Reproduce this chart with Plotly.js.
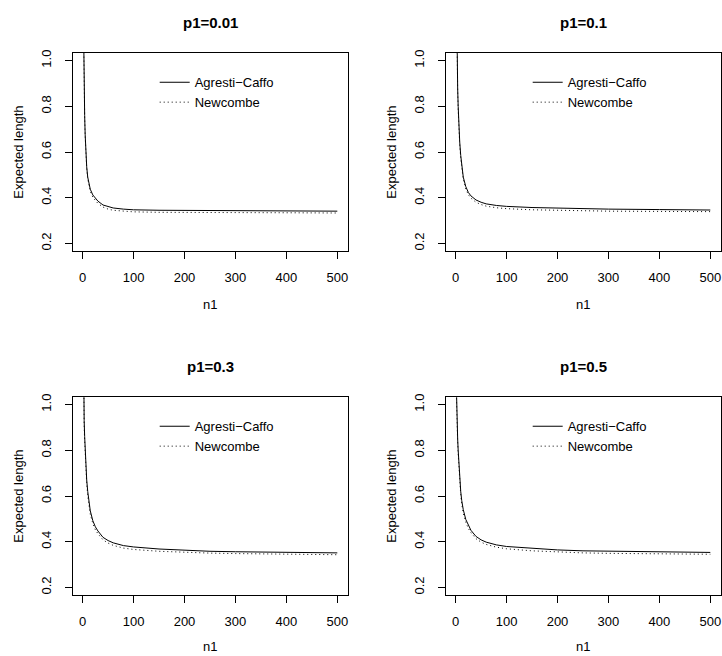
<!DOCTYPE html>
<html>
<head>
<meta charset="utf-8">
<script src="https://cdn.plot.ly/plotly-3.0.1.min.js"></script>
<style>html,body{margin:0;padding:0;background:#fff;}#chart{width:722px;height:656px;}</style>
</head>
<body>
<div id="chart"></div>
<script>
const n1 = [1,2,3,4,5,6,8,10,12,15,20,25,30,40,50,60,80,100,150,200,250,300,400,500];
const panelTitles = ["p1=0.01","p1=0.1","p1=0.3","p1=0.5"];
const seriesNames = ["Agresti\u2212Caffo","Newcombe"];
const xTicks = [0,100,200,300,400,500];
const yTicks = [0.2,0.4,0.6,0.8,1.0];
const yTickLabels = ["0.2","0.4","0.6","0.8","1.0"];

const ac_p001 = [1.30,1.03,0.87,0.76,0.675,0.61,0.535,0.49,0.463,0.437,0.412,0.397,0.385,0.368,0.360,0.355,0.350,0.347,0.345,0.344,0.343,0.342,0.341,0.341];
const nw_p001 = [1.28,1.02,0.86,0.75,0.668,0.604,0.528,0.482,0.455,0.428,0.402,0.386,0.375,0.359,0.350,0.345,0.340,0.338,0.336,0.335,0.335,0.334,0.334,0.333];
const ac_p01 = [1.45,1.10,0.99,0.88,0.80,0.735,0.645,0.585,0.54,0.49,0.448,0.423,0.408,0.39,0.38,0.373,0.366,0.362,0.357,0.354,0.352,0.350,0.348,0.346];
const nw_p01 = [1.42,1.08,0.97,0.865,0.785,0.72,0.632,0.573,0.53,0.48,0.438,0.413,0.398,0.38,0.37,0.363,0.356,0.352,0.347,0.344,0.342,0.341,0.340,0.339];
const ac_p03 = [1.50,1.03,0.93,0.86,0.80,0.755,0.67,0.62,0.575,0.535,0.492,0.465,0.447,0.419,0.405,0.395,0.383,0.377,0.368,0.362,0.358,0.356,0.353,0.351];
const nw_p03 = [1.45,1.00,0.91,0.84,0.78,0.735,0.655,0.60,0.56,0.52,0.48,0.452,0.435,0.408,0.394,0.384,0.372,0.366,0.358,0.353,0.350,0.348,0.345,0.343];
const ac_p05 = [1.12,0.97,0.91,0.85,0.80,0.755,0.675,0.62,0.58,0.54,0.497,0.47,0.45,0.423,0.408,0.398,0.386,0.379,0.370,0.364,0.360,0.358,0.355,0.353];
const nw_p05 = [1.08,0.95,0.89,0.835,0.785,0.74,0.66,0.605,0.565,0.525,0.485,0.458,0.44,0.413,0.398,0.388,0.376,0.369,0.360,0.355,0.351,0.349,0.347,0.345];

const acSets = [ac_p001, ac_p01, ac_p03, ac_p05];
const nwSets = [nw_p001, nw_p01, nw_p03, nw_p05];

const W = 722, H = 656;
// panel boxes in pixels: [left, right, top, bottom]
const boxes = [
  [72.7, 348, 53.3, 250.7],
  [445.7, 721, 53.3, 250.7],
  [72.7, 348, 397.3, 594.7],
  [445.7, 721, 397.3, 594.7]
];
const font = "Liberation Sans, Arial, Helvetica, sans-serif";

const traces = [];
const layout = {
  width: W, height: H,
  margin: {l:0, r:0, t:0, b:0},
  paper_bgcolor: "#fff", plot_bgcolor: "#fff",
  showlegend: true,
  font: {family: font, size: 13, color: "#000"},
  annotations: []
};

boxes.forEach((b, i) => {
  const k = i === 0 ? "" : String(i+1);
  const xa = "x" + k, ya = "y" + k;
  const lg = "legend" + k;
  traces.push({x: n1, y: acSets[i], type: "scatter", mode: "lines", name: seriesNames[0],
    xaxis: xa, yaxis: ya, legend: lg, line: {color: "#000", width: 1}});
  traces.push({x: n1, y: nwSets[i], type: "scatter", mode: "lines", name: seriesNames[1],
    xaxis: xa, yaxis: ya, legend: lg, line: {color: "#000", width: 1, dash: "1px,3px"}});
  const common = {showline: true, mirror: true, linecolor: "#000", linewidth: 1,
    ticks: "outside", ticklen: 7, tickcolor: "#000", tickwidth: 1,
    showgrid: false, zeroline: false, fixedrange: true,
    tickfont: {family: font, size: 13, color: "#000"}};
  layout["xaxis" + k] = Object.assign({}, common, {
    domain: [b[0]/W, b[1]/W], anchor: ya, range: [-19.5, 521],
    tickmode: "array", tickvals: xTicks, ticktext: xTicks.map(String), ticklabelstandoff: 8
  });
  layout["yaxis" + k] = Object.assign({}, common, {
    domain: [1 - b[3]/H, 1 - b[2]/H], anchor: xa, range: [0.168, 1.032],
    tickmode: "array", tickvals: yTicks, ticktext: yTickLabels, tickangle: -90, ticklabelstandoff: 9
  });
  layout[lg] = {x: (b[0] + 82)/W, y: 1 - (b[2] + 14)/H, xanchor: "left", yanchor: "top",
    bgcolor: "rgba(0,0,0,0)", borderwidth: 0, font: {family: font, size: 13, color: "#000"},
    itemclick: false, itemdoubleclick: false};
  const cx = (b[0] + b[1]) / 2;
  layout.annotations.push({text: "<b>" + panelTitles[i] + "</b>", xref: "paper", yref: "paper",
    x: cx/W, y: 1 - (b[2] - 31)/H, showarrow: false, xanchor: "center", yanchor: "middle",
    font: {family: font, size: 15, color: "#000"}});
  layout.annotations.push({text: "n1", xref: "paper", yref: "paper",
    x: cx/W, y: Math.max(0, 1 - (b[3] + 63)/H), showarrow: false, xanchor: "center", yanchor: "bottom",
    font: {family: font, size: 13, color: "#000"}});
  layout.annotations.push({text: "Expected length", xref: "paper", yref: "paper",
    x: (b[0] - 55)/W, y: 1 - ((b[2] + b[3])/2)/H, showarrow: false, textangle: -90,
    xanchor: "center", yanchor: "middle", font: {family: font, size: 13, color: "#000"}});
});

Plotly.newPlot("chart", traces, layout, {displayModeBar: false, staticPlot: true});
</script>
</body>
</html>
